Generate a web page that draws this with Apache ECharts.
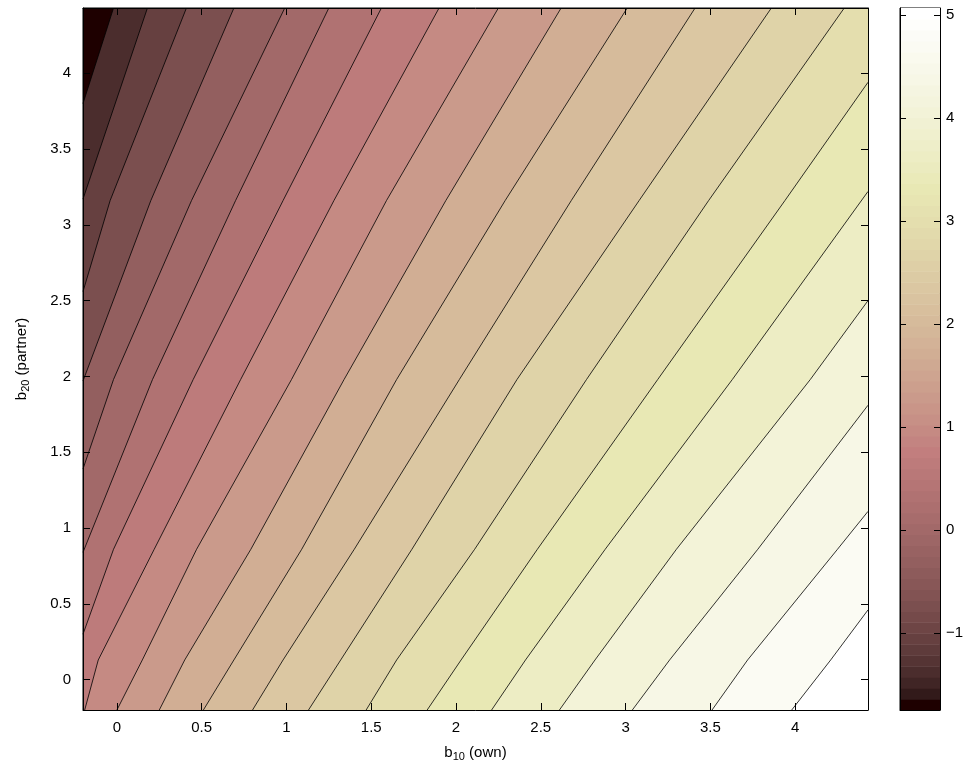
<!DOCTYPE html>
<html>
<head>
<meta charset="UTF-8">
<title>contour</title>
<script src="https://cdn.jsdelivr.net/npm/echarts@6/dist/echarts.min.js"></script>
<style>body{margin:0;background:#fff}</style>
</head>
<body>
<div id="main" style="width:969px;height:772px;"></div>
<script type="text/javascript">
// axis ranges and ticks
var xRange = [-0.2, 4.43];
var yRange = [-0.2, 4.43];
var zRange = [-1.75, 5.07];
var xTicks = [0, 0.5, 1, 1.5, 2, 2.5, 3, 3.5, 4];
var yTicks = [0, 0.5, 1, 1.5, 2, 2.5, 3, 3.5, 4];
var cbTicks = [-1, 0, 1, 2, 3, 4, 5];

// contour levels (21 bands, lowest first)
var levels = [-1.75, -1.409, -1.068, -0.727, -0.386, -0.045, 0.296, 0.637, 0.978, 1.319,
  1.66, 2.001, 2.342, 2.683, 3.024, 3.365, 3.706, 4.047, 4.388, 4.729, 5.07];

// contour lines, from lower-left end to upper-right end
var contourLines = [
  [[-0.2, 3.80], [-0.02, 4.43]],
  [[-0.2, 3.17], [0.18, 4.43]],
  [[-0.2, 2.56], [-0.04, 3.16], [0.41, 4.43]],
  [[-0.2, 1.97], [0.20, 3.16], [0.69, 4.43]],
  [[-0.2, 1.39], [-0.02, 1.98], [0.44, 3.16], [0.99, 4.43]],
  [[-0.2, 0.84], [0.21, 1.98], [0.70, 3.16], [1.25, 4.43]],
  [[-0.2, 0.30], [-0.02, 0.86], [0.45, 1.98], [0.98, 3.16], [1.56, 4.43]],
  [[-0.19, -0.2], [-0.11, 0.13], [0.22, 0.86], [0.73, 1.98], [1.28, 3.16], [1.90, 4.43]],
  [[0.0, -0.2], [0.15, 0.13], [0.47, 0.86], [1.03, 1.98], [1.59, 3.16], [2.25, 4.43]],
  [[0.25, -0.2], [0.40, 0.13], [0.79, 0.86], [1.34, 1.98], [1.94, 3.16], [2.62, 4.43]],
  [[0.51, -0.2], [0.69, 0.13], [1.09, 0.86], [1.65, 1.98], [2.29, 3.16], [3.01, 4.43]],
  [[0.80, -0.2], [0.98, 0.13], [1.40, 0.86], [2.02, 1.98], [2.68, 3.16], [3.41, 4.43]],
  [[1.13, -0.2], [1.32, 0.13], [1.74, 0.86], [2.36, 1.98], [3.08, 3.16], [3.86, 4.43]],
  [[1.47, -0.2], [1.65, 0.13], [2.11, 0.86], [2.77, 1.98], [3.49, 3.16], [4.29, 4.43]],
  [[1.83, -0.2], [2.03, 0.13], [2.48, 0.86], [3.19, 1.98], [3.94, 3.16], [4.43, 3.94]],
  [[2.21, -0.2], [2.41, 0.13], [2.88, 0.86], [3.63, 1.98], [4.43, 3.22]],
  [[2.61, -0.2], [2.82, 0.13], [3.30, 0.86], [4.09, 1.98], [4.43, 2.50]],
  [[3.04, -0.2], [3.26, 0.13], [3.78, 0.86], [4.43, 1.81]],
  [[3.51, -0.2], [3.72, 0.13], [4.25, 0.86], [4.43, 1.11]],
  [[3.98, -0.2], [4.21, 0.13], [4.43, 0.46]]
];

// MATLAB pink colormap, 64 entries: sqrt((2*gray + hot)/3)
var cmap = [];
for (var i = 0; i < 64; i++) {
  var g = i / 63;
  var hr = i < 24 ? (i + 1) / 24 : 1;
  var hg = i < 24 ? 0 : (i < 48 ? (i - 23) / 24 : 1);
  var hb = i < 48 ? 0 : (i - 47) / 16;
  var c = [hr, hg, hb].map(function (h) { return Math.round(Math.sqrt((2 * g + h) / 3) * 255); });
  cmap.push('rgb(' + c.join(',') + ')');
}
function levelColor(v) {
  var t = (v - zRange[0]) / (zRange[1] - zRange[0]);
  return cmap[Math.max(0, Math.min(63, Math.round(t * 63)))];
}

// polygon of the region on the high-value side of a contour line
function bandPolygon(pts) {
  var far = 10, out = [];
  var s = pts[0], e = pts[pts.length - 1];
  if (s[1] <= yRange[0] + 1e-6) out.push([s[0], -far]); else out.push([-far, s[1]]);
  pts.forEach(function (p) { out.push(p); });
  if (e[1] >= yRange[1] - 1e-6) { out.push([e[0], far]); out.push([far, far]); }
  else out.push([far, e[1]]);
  out.push([far, -far]);
  out.push([-far, -far]);
  return out;
}

var bandData = [];
for (var b = 0; b < levels.length; b++) bandData.push([b]);

var font = 'Liberation Sans, Arial, sans-serif';
var myChart = echarts.init(document.getElementById('main'));

var series = [{
  type: 'custom',
  xAxisIndex: 0, yAxisIndex: 0,
  clip: true,
  silent: true,
  z: 1,
  data: bandData,
  renderItem: function (params, api) {
    var k = api.value(0);
    var pts = k === 0 ? [[-10, -10], [-10, 10], [10, 10], [10, -10]] : bandPolygon(contourLines[k - 1]);
    return {
      type: 'polygon',
      shape: { points: pts.map(function (p) { return api.coord(p); }) },
      style: { fill: levelColor(levels[k]), stroke: null }
    };
  }
}];

contourLines.forEach(function (ln) {
  series.push({
    type: 'line', xAxisIndex: 0, yAxisIndex: 0,
    data: ln, symbol: 'none', silent: true, clip: true,
    lineStyle: { color: '#000', width: 0.8 }, z: 2
  });
});

var cbData = [];
for (var j = 0; j < 64; j++) cbData.push([j]);
series.push({
  type: 'custom', xAxisIndex: 2, yAxisIndex: 2, clip: true, silent: true, z: 1,
  data: cbData,
  renderItem: function (params, api) {
    var j = api.value(0);
    var step = (zRange[1] - zRange[0]) / 64;
    var p0 = api.coord([0, zRange[0] + j * step]);
    var p1 = api.coord([1, zRange[0] + (j + 1) * step]);
    return {
      type: 'rect',
      shape: { x: p0[0], y: p1[1], width: p1[0] - p0[0], height: p0[1] - p1[1] + 0.6 },
      style: { fill: cmap[j] }
    };
  }
});

function tickAxis(extra) {
  var base = {
    type: 'value',
    z: 10,
    splitLine: { show: false },
    axisLine: { show: true, onZero: false, lineStyle: { color: '#000', width: 1 } },
    axisTick: { show: true, inside: true, length: 7, lineStyle: { color: '#000' } },
    axisLabel: { show: false }
  };
  return Object.assign(base, extra);
}
function ticks(vals, len) {
  return { show: true, inside: true, length: len, lineStyle: { color: '#000' }, customValues: vals };
}

var option = {
  animation: false,
  backgroundColor: '#fff',
  grid: [
    { left: 83, top: 8, width: 785, height: 702, show: true, borderColor: '#000', borderWidth: 1, backgroundColor: 'transparent' },
    { left: 900, top: 8, width: 40, height: 702, show: true, borderColor: '#000', borderWidth: 1, backgroundColor: 'transparent' }
  ],
  xAxis: [
    tickAxis({
      gridIndex: 0, position: 'bottom', min: xRange[0], max: xRange[1],
      axisTick: ticks(xTicks, 7),
      axisLabel: { show: true, customValues: xTicks, color: '#000', fontFamily: font, fontSize: 15, margin: 10,
        formatter: function (v) { return String(v); } },
      name: '{t|b}{s|10}{t| (own)}', nameLocation: 'middle', nameGap: 33,
      nameTextStyle: { rich: { t: { fontFamily: font, fontSize: 15, color: '#000' },
        s: { fontFamily: font, fontSize: 11, color: '#000', padding: [8, 0, 0, 0] } } }
    }),
    tickAxis({ gridIndex: 0, position: 'top', min: xRange[0], max: xRange[1], axisTick: ticks(xTicks, 7) }),
    tickAxis({ gridIndex: 1, min: 0, max: 1, axisTick: { show: false } })
  ],
  yAxis: [
    tickAxis({
      gridIndex: 0, position: 'left', min: yRange[0], max: yRange[1],
      axisTick: ticks(yTicks, 7),
      axisLabel: { show: true, customValues: yTicks, color: '#000', fontFamily: font, fontSize: 15, margin: 12,
        formatter: function (v) { return String(v); } },
      name: '{t|b}{s|20}{t| (partner)}', nameLocation: 'middle', nameGap: 52, nameRotate: 90,
      nameTextStyle: { rich: { t: { fontFamily: font, fontSize: 15, color: '#000' },
        s: { fontFamily: font, fontSize: 11, color: '#000', padding: [8, 0, 0, 0] } } }
    }),
    tickAxis({ gridIndex: 0, position: 'right', min: yRange[0], max: yRange[1], axisTick: ticks(yTicks, 7) }),
    tickAxis({
      gridIndex: 1, position: 'right', min: zRange[0], max: zRange[1],
      axisTick: ticks(cbTicks, 6),
      axisLabel: { show: true, customValues: cbTicks, color: '#000', fontFamily: font, fontSize: 15, margin: 6,
        formatter: function (v) { return String(v).replace('-', '\u2212'); } }
    }),
    tickAxis({ gridIndex: 1, position: 'left', min: zRange[0], max: zRange[1], axisTick: ticks(cbTicks, 6) })
  ],
  series: series
};
myChart.setOption(option);
</script>
</body>
</html>
